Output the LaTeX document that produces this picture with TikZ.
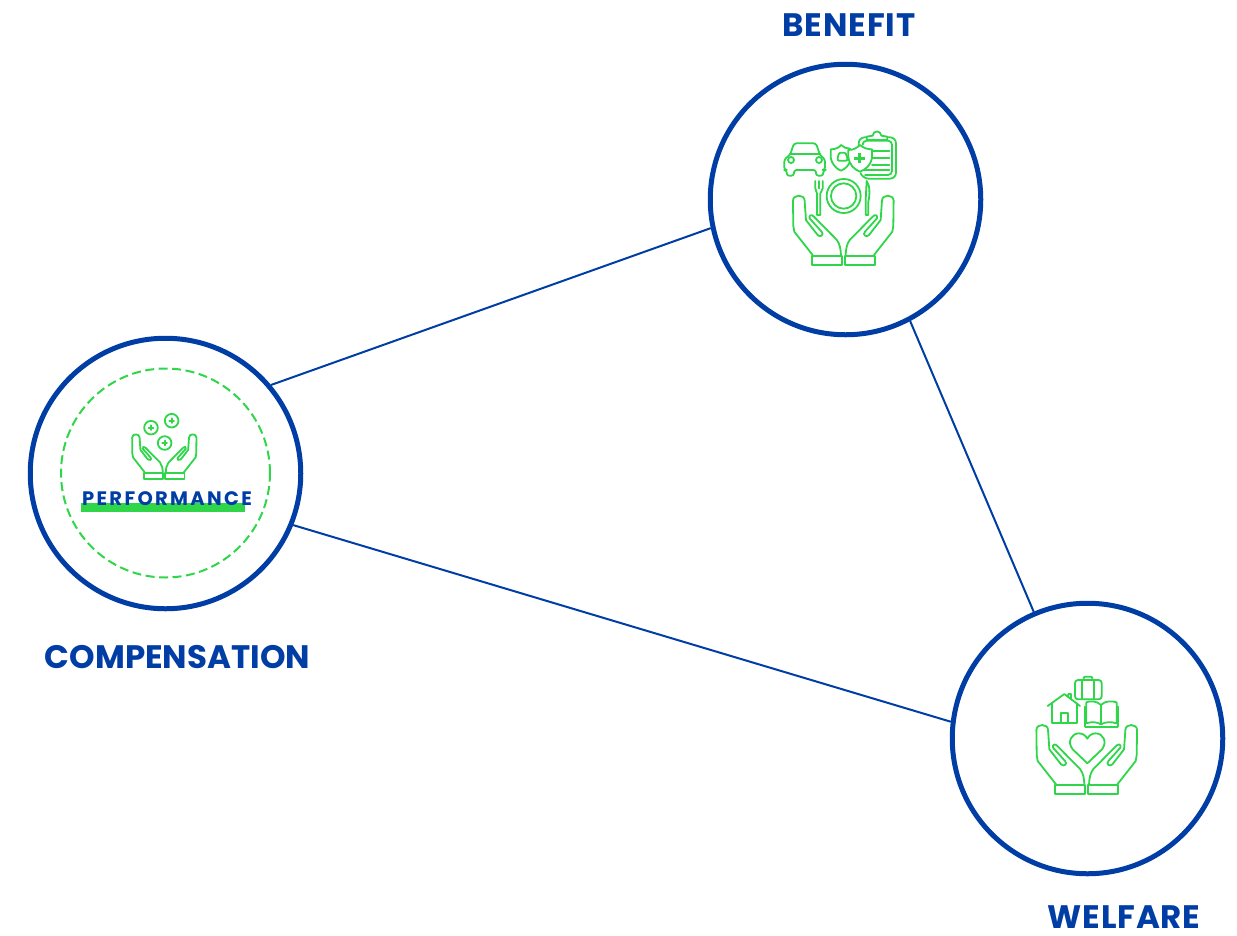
\documentclass[tikz,border=0pt]{standalone}
\usepackage{fontspec}
\setmainfont{Poppins}
\newfontfamily\perffont[LetterSpace=12]{Poppins}
\newfontfamily\wideheadfont[LetterSpace=2.6]{Poppins}
\definecolor{navy}{HTML}{003DA5}
\definecolor{leaf}{HTML}{2FD64A}
\newcommand{\handpair}{%
  \foreach \s in {1,-1}{
  \begin{scope}[xscale=\s]
    \draw[icon] (92,-2) -- (147,-72) -- (150,-90) -- (151,-165)
      .. controls (151,-185) and (116,-185) .. (116,-165)
      -- (112,-107) -- (77,-62) .. controls (70,-54) and (56,-62) .. (65,-72)
      -- (101,-112) .. controls (104,-122) and (95,-125) .. (88,-117)
      -- (20,-48) .. controls (10,-35) and (8,-20) .. (7,-2);
    \draw[icon] (5,0) rectangle (95,28);
  \end{scope}}%
}
\tikzset{
  icon/.style={draw=leaf,line width=1.8pt,line join=round,line cap=round},
  ring/.style={circle,draw=navy,line width=5pt,minimum size=270.5pt,inner sep=0pt},
  link/.style={draw=navy,line width=2pt},
  heading/.style={text=navy,font=\fontsize{32.5}{34}\selectfont\bfseries,inner sep=0pt},
  wideheading/.style={text=navy,font=\wideheadfont\fontsize{32.5}{34}\selectfont\bfseries,inner sep=0pt},
}
\begin{document}
\begin{tikzpicture}[x=1pt,y=-1pt]
\useasboundingbox (0,0) rectangle (1237,935);
\node[ring] (comp) at (165.5,473.5) {};
\node[ring] (ben) at (845.5,199.5) {};
\node[ring] (wel) at (1087.5,738.5) {};
\draw[link] (comp.40) -- (ben.192);
\draw[link] (comp.-22) -- (wel.173.5);
\draw[link] (ben.-62) -- (wel.113);
\node[circle,draw=leaf,dash pattern=on 9pt off 4.5pt,line width=2pt,minimum size=209pt,inner sep=0pt] (inner) at (165.5,473) {};

\node[wideheading] (lb) at (849,25) {BENEFIT};
\node[heading] (lc) at (177.5,657.5) {COMPENSATION};
\node[wideheading] (lw) at (1124,917) {WELFARE};

% performance
\fill[leaf] (81,503) rectangle (245,511.5);
\node[text=navy,font=\perffont\fontsize{19.5}{21}\selectfont\bfseries,inner sep=0pt] (perf) at (167,499) {PERFORMANCE};
\begin{scope}[shift={(164.3,472.7)},x=0.213pt,y=-0.213pt]
  \handpair
\end{scope}
\begin{scope}[shift={(70,405)},x=0.3333pt,y=-0.3333pt]
  \foreach \cx/\cy in {243/68,305/47,284/114}{
    \draw[icon] (\cx,\cy) circle[radius=6.8pt];
    \draw[icon] (\cx-7,\cy) -- (\cx+7,\cy) (\cx,\cy-7) -- (\cx,\cy+7);
  }
\end{scope}

% benefit
\begin{scope}[shift={(843.3,255.7)},x=0.3333pt,y=-0.3333pt]
  \handpair
\end{scope}
\begin{scope}[shift={(770,120)},x=0.3333pt,y=-0.3333pt]
  % car
  \draw[icon,rounded corners=2.5pt] (60,105) -- (72,70) -- (138,70) -- (150,105) -- (165,118) -- (165,150) -- (160,150) -- (160,167) -- (138,167) -- (138,150) -- (72,150) -- (72,167) -- (50,167) -- (50,150) -- (43,150) -- (43,118) -- cycle;
  \draw[icon] (60,103) -- (150,103);
  \draw[icon] (63,120) circle[radius=3pt] (147,120) circle[radius=3pt];
  % shield 1
  \draw[icon] (182,88) .. controls (198,88) and (208,82) .. (213,75) .. controls (220,82) and (230,86) .. (240,86) -- (240,125) .. controls (235,138) and (225,147) .. (213,152) .. controls (200,147) and (186,135) .. (182,112) -- cycle;
  \draw[icon,rounded corners=1pt] (203,112) -- (208,98) -- (226,98) -- (232,112) -- (232,122) -- (203,122) -- cycle;
  % clipboard
  \draw[icon,rounded corners=6pt] (266,78) -- (266,52) -- (378,52) -- (378,176) -- (278,176) -- (272,160);
  \draw[icon,rounded corners=4pt] (278,70) -- (278,62) -- (366,62) -- (366,165) -- (285,165);
  \draw[icon,fill=white] (290,60) -- (290,50) -- (308,47) .. controls (310,30) and (332,30) .. (334,47) -- (352,50) -- (352,60) -- cycle;
  \foreach \yy in {92,115,135}{\draw[icon] (306,\yy) -- (358,\yy);}
  \draw[icon] (282,150) -- (358,150);
  % shield 2
  \draw[icon,fill=white] (235,90) .. controls (250,90) and (260,84) .. (270,75) .. controls (280,84) and (292,88) .. (306,88) -- (306,115) .. controls (302,135) and (288,148) .. (270,155) .. controls (252,148) and (238,135) .. (235,110) -- cycle;
  \draw[icon,line width=3pt,line cap=butt] (253,114) -- (285,114) (269,98) -- (269,130);
  % plate
  \draw[icon] (221,228) circle[radius=17pt] (221,228) circle[radius=12.7pt];
  % fork
  \draw[icon] (136,183) -- (136,205) .. controls (136,212) and (141,215) .. (141,220) -- (141,285) -- (151,285) -- (151,220) .. controls (151,215) and (158,212) .. (158,205) -- (158,183);
  \draw[icon] (147,183) -- (147,205);
  % knife
  \draw[icon] (290,183) .. controls (300,195) and (300,225) .. (295,245) -- (295,285) -- (287,285) -- (287,240) -- cycle;
\end{scope}

% welfare
\begin{scope}[shift={(1086.7,785)},x=0.3333pt,y=-0.3333pt]
  \handpair
\end{scope}
\begin{scope}[shift={(1025,670)},x=0.3333pt,y=-0.3333pt]
  \draw[icon,rounded corners=3pt] (150,30) rectangle (230,88);
  \draw[icon] (170,30) -- (170,88) (208,30) -- (208,88);
  \draw[icon,rounded corners=1pt] (176,30) -- (176,20) -- (202,20) -- (202,30);
  % house
  \draw[icon] (68,108) -- (118,72) -- (165,108) (130,80) -- (130,72) -- (138,72) -- (138,88);
  \draw[icon] (80,100) -- (80,160) -- (155,160) -- (155,100);
  \draw[icon] (109,160) -- (109,128) -- (128,128) -- (128,160);
  % book
  \draw[icon] (228,105) .. controls (215,92) and (195,92) .. (184,97) -- (184,160) .. controls (198,155) and (215,155) .. (228,163) .. controls (240,155) and (260,155) .. (275,160) -- (275,97) .. controls (260,92) and (240,92) .. (228,105) -- (228,163);
  \draw[icon] (181,170) -- (278,170) (181,110) -- (181,170) (278,110) -- (278,170);
  % heart
  \draw[icon] (187,280) -- (143,238) .. controls (125,215) and (140,190) .. (162,190) .. controls (172,190) and (182,196) .. (187,206) .. controls (192,196) and (202,190) .. (212,190) .. controls (234,190) and (248,215) .. (231,238) -- cycle;
\end{scope}
\end{tikzpicture}
\end{document}
